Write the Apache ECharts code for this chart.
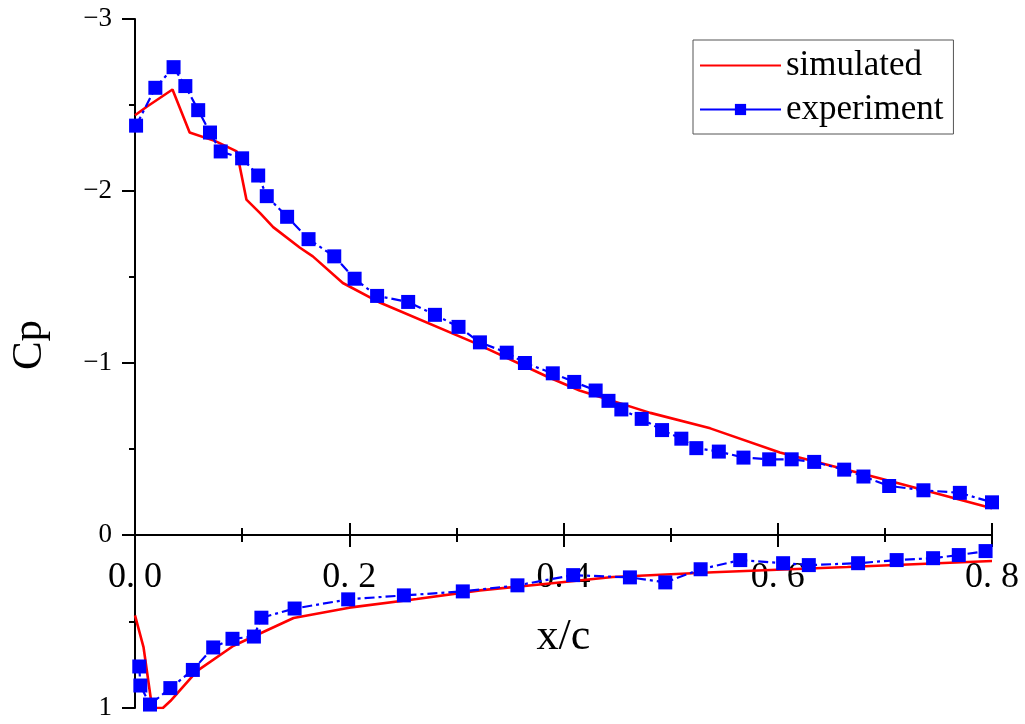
<!DOCTYPE html>
<html>
<head>
<meta charset="utf-8">
<script src="https://cdn.jsdelivr.net/npm/echarts@6/dist/echarts.min.js"></script>
<style>
html,body{margin:0;padding:0;background:#fff;}
#chart{width:1025px;height:724px;}
</style>
</head>
<body>
<div id="chart"></div>
<script>
// ---- data ----
var simUpperX = [0, 0.011, 0.035, 0.051, 0.075, 0.095, 0.104, 0.117, 0.129, 0.154, 0.166, 0.194, 0.229, 0.316, 0.385, 0.415, 0.481, 0.537, 0.602, 0.695, 0.8];
var simUpperCp = [-2.44, -2.49, -2.59, -2.34, -2.29, -2.23, -1.95, -1.87, -1.79, -1.67, -1.62, -1.465, -1.35, -1.12, -0.92, -0.84, -0.71, -0.62, -0.48, -0.33, -0.155];

var simLowerX = [0, 0.008, 0.016, 0.026, 0.033, 0.058, 0.092, 0.148, 0.2, 0.263, 0.322, 0.387, 0.446, 0.54, 0.665, 0.8];
var simLowerCp = [0.465, 0.65, 1.0, 1.0, 0.96, 0.785, 0.64, 0.48, 0.42, 0.37, 0.32, 0.28, 0.243, 0.215, 0.185, 0.15];

var expUpperX = [0.001, 0.019, 0.036, 0.047, 0.059, 0.070, 0.080, 0.100, 0.115, 0.123, 0.142, 0.162, 0.186, 0.205, 0.226, 0.255, 0.280, 0.302, 0.322, 0.347, 0.364, 0.390, 0.410, 0.430, 0.442, 0.454, 0.473, 0.492, 0.510, 0.524, 0.545, 0.568, 0.592, 0.613, 0.634, 0.662, 0.680, 0.704, 0.736, 0.770, 0.800];
var expUpperCp = [-2.38, -2.60, -2.72, -2.61, -2.47, -2.34, -2.23, -2.19, -2.09, -1.97, -1.85, -1.72, -1.62, -1.49, -1.39, -1.355, -1.28, -1.21, -1.12, -1.06, -1.00, -0.94, -0.89, -0.84, -0.78, -0.73, -0.675, -0.61, -0.56, -0.505, -0.485, -0.45, -0.44, -0.44, -0.425, -0.38, -0.34, -0.285, -0.26, -0.245, -0.19];

var expLowerX = [0.004, 0.005, 0.014, 0.033, 0.054, 0.073, 0.091, 0.111, 0.118, 0.149, 0.199, 0.251, 0.306, 0.357, 0.409, 0.462, 0.495, 0.528, 0.565, 0.605, 0.629, 0.675, 0.711, 0.745, 0.769, 0.794];
var expLowerCp = [0.76, 0.87, 0.98, 0.885, 0.78, 0.65, 0.60, 0.587, 0.478, 0.425, 0.372, 0.349, 0.326, 0.291, 0.232, 0.245, 0.274, 0.198, 0.145, 0.163, 0.174, 0.163, 0.145, 0.134, 0.116, 0.093];

var seriesNames = ['simulated', 'experiment'];
var xTitle = 'x/c';
var yTitle = 'Cp';

function pairs(xs, ys) { return xs.map(function (x, i) { return [x, ys[i]]; }); }

var SERIF = '"Liberation Serif", "DejaVu Serif", serif';
var chart = echarts.init(document.getElementById('chart'), null, { renderer: 'canvas' });

var expLine = { color: '#0000ff', width: 2.2, type: [10, 4, 3, 4] };
var simLine = { color: '#ff0000', width: 2.6 };
var blackLine = { color: '#000', width: 2 };

function yLabel(v) { return v < 0 ? '\u2212' + Math.abs(v) : String(v); }

chart.setOption({
  animation: false,
  backgroundColor: '#ffffff',
  grid: [
    // suction side: Cp from -3 to 0
    { left: 135, right: 33, top: 19, height: 516, containLabel: false, outerBoundsMode: 'none' },
    // pressure side: Cp from 0 to 1
    { left: 135, right: 33, top: 535, height: 173, containLabel: false, outerBoundsMode: 'none' }
  ],
  legend: {
    orient: 'vertical',
    left: 693, top: 40,
    padding: [8, 10, 7, 6],
    borderColor: '#555',
    borderWidth: 1,
    itemWidth: 81, itemHeight: 14, itemGap: 9,
    textStyle: { fontFamily: SERIF, fontSize: 35, color: '#000' },
    data: [
      { name: seriesNames[0], itemStyle: { opacity: 0 } },
      { name: seriesNames[1], lineStyle: { type: 'solid' } }
    ]
  },
  xAxis: [{
    gridIndex: 0, type: 'value', min: 0, max: 0.8, interval: 0.2,
    position: 'bottom',
    name: xTitle, nameLocation: 'middle', nameGap: 80,
    nameTextStyle: { fontFamily: SERIF, fontSize: 44, color: '#000' },
    axisLine: { onZero: false, lineStyle: blackLine },
    axisTick: { show: true, inside: false, length: 12, lineStyle: blackLine },
    minorTick: { show: true, splitNumber: 2, length: 7, lineStyle: blackLine },
    splitLine: { show: false },
    axisLabel: {
      margin: 25, fontFamily: SERIF, fontSize: 36, color: '#000',
      formatter: function (v) { return v.toFixed(1).replace('.', '. '); }
    }
  }, {
    gridIndex: 1, type: 'value', min: 0, max: 0.8, interval: 0.2,
    position: 'top',
    axisLine: { show: false, onZero: false },
    axisTick: { show: true, inside: false, length: 12, lineStyle: blackLine },
    minorTick: { show: true, splitNumber: 2, length: 7, lineStyle: blackLine },
    splitLine: { show: false },
    axisLabel: { show: false }
  }],
  yAxis: [{
    gridIndex: 0, type: 'value', min: -3, max: 0, interval: 1, inverse: true,
    name: yTitle, nameLocation: 'middle', nameGap: 84, nameRotate: 90,
    nameTextStyle: { fontFamily: SERIF, fontSize: 43, color: '#000', padding: [0, 136, 0, 0] },
    axisLine: { onZero: false, lineStyle: blackLine },
    axisTick: { show: true, inside: false, length: 13, lineStyle: blackLine },
    minorTick: { show: true, splitNumber: 2, length: 6, lineStyle: blackLine },
    splitLine: { show: false },
    axisLabel: { margin: 23, fontFamily: SERIF, fontSize: 27, color: '#000', formatter: yLabel }
  }, {
    gridIndex: 1, type: 'value', min: 0, max: 1, interval: 1, inverse: true,
    axisLine: { onZero: false, lineStyle: blackLine },
    axisTick: { show: true, inside: false, length: 13, lineStyle: blackLine },
    minorTick: { show: true, splitNumber: 2, length: 6, lineStyle: blackLine },
    splitLine: { show: false },
    axisLabel: {
      margin: 23, fontFamily: SERIF, fontSize: 27, color: '#000',
      formatter: function (v) { return v === 0 ? '' : yLabel(v); }
    }
  }],
  series: [
    { name: seriesNames[0], type: 'line', xAxisIndex: 0, yAxisIndex: 0, data: pairs(simUpperX, simUpperCp), showSymbol: false, symbol: 'none', lineStyle: simLine, itemStyle: { color: '#ff0000' }, z: 2 },
    { name: seriesNames[0], type: 'line', xAxisIndex: 1, yAxisIndex: 1, data: pairs(simLowerX, simLowerCp), showSymbol: false, symbol: 'none', lineStyle: simLine, itemStyle: { color: '#ff0000' }, z: 2 },
    { name: seriesNames[1], type: 'line', xAxisIndex: 0, yAxisIndex: 0, data: pairs(expUpperX, expUpperCp), symbol: 'rect', symbolSize: 14, lineStyle: expLine, itemStyle: { color: '#0000ff' }, z: 3 },
    { name: seriesNames[1], type: 'line', xAxisIndex: 1, yAxisIndex: 1, data: pairs(expLowerX, expLowerCp), symbol: 'rect', symbolSize: 14, lineStyle: expLine, itemStyle: { color: '#0000ff' }, z: 3 }
  ]
});
</script>
</body>
</html>
